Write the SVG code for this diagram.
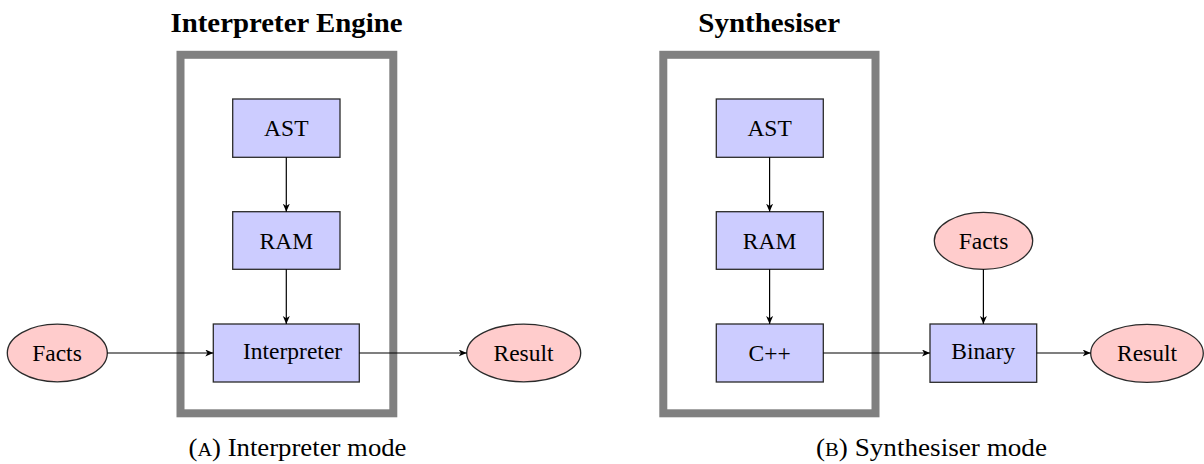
<svg xmlns="http://www.w3.org/2000/svg" width="1204" height="464" viewBox="0 0 1204 464">
  <style>
    .frame { fill: none; stroke: #808080; stroke-width: 8; }
    .box { fill: #ccccff; stroke: #2a2a2a; stroke-width: 1.3; }
    .ell { fill: #ffcccc; stroke: #2a2a2a; stroke-width: 1.3; }
    .lbl { font-family: "Liberation Serif", "Times New Roman", serif; font-size: 23.5px; fill: #000; }
    .title { font-family: "Liberation Serif", "Times New Roman", serif; font-size: 28px; font-weight: bold; fill: #000; }
    .cap { font-family: "Liberation Serif", "Times New Roman", serif; font-size: 25px; fill: #000; }
    .edge { stroke: #000; stroke-width: 1.2; fill: none; marker-end: url(#arr); }
  </style>
  <defs>
    <marker id="arr" markerUnits="userSpaceOnUse" markerWidth="10" markerHeight="8" refX="8" refY="3.5" orient="auto">
      <path d="M0,0 L8,3.5 L0,7 L2.2,3.5 z" fill="#000"/>
    </marker>
  </defs>
  <rect width="1204" height="464" fill="#fff"/>

  <!-- Panel A -->
  <g id="titleA"><text class="title" x="286.5" y="31.7" text-anchor="middle" textLength="232" lengthAdjust="spacingAndGlyphs">Interpreter Engine</text></g>
  <g id="frameA"><rect class="frame" x="180.5" y="54.8" width="212.8" height="358.5"/></g>
  <g id="astA"><rect class="box" x="232.7" y="99" width="107.3" height="58.3"/><text class="lbl" x="286.3" y="136" text-anchor="middle">AST</text></g>
  <g id="ramA"><rect class="box" x="232.7" y="211.7" width="107.3" height="57.6"/><text class="lbl" x="286.3" y="248.5" text-anchor="middle">RAM</text></g>
  <g id="interp"><rect class="box" x="213.3" y="324" width="146" height="58"/><text class="lbl" x="243" y="359">Interpreter</text></g>
  <g id="factsA"><ellipse class="ell" cx="57.3" cy="353" rx="50" ry="28.8"/><text class="lbl" x="57" y="361" text-anchor="middle">Facts</text></g>
  <g id="resultA"><ellipse class="ell" cx="523.7" cy="353" rx="57" ry="28.8"/><text class="lbl" x="523.5" y="361" text-anchor="middle">Result</text></g>
  <g id="capA"><text class="cap" x="297.5" y="456" text-anchor="middle" textLength="218" lengthAdjust="spacingAndGlyphs">(<tspan font-size="19">A</tspan>) Interpreter mode</text></g>

  <!-- Panel B -->
  <g id="titleB"><text class="title" x="769.2" y="31.7" text-anchor="middle" textLength="141.7" lengthAdjust="spacingAndGlyphs">Synthesiser</text></g>
  <g id="frameB"><rect class="frame" x="663.3" y="54.8" width="212.2" height="358.5"/></g>
  <g id="astB"><rect class="box" x="716.3" y="99" width="107" height="58.3"/><text class="lbl" x="769.6" y="136" text-anchor="middle">AST</text></g>
  <g id="ramB"><rect class="box" x="716.3" y="211.7" width="107" height="57.6"/><text class="lbl" x="769.6" y="248.5" text-anchor="middle">RAM</text></g>
  <g id="cpp"><rect class="box" x="716.3" y="324" width="107" height="58"/><text class="lbl" x="769.6" y="361" text-anchor="middle">C++</text></g>
  <g id="binary"><rect class="box" x="930" y="324" width="106.7" height="58.3"/><text class="lbl" x="983.3" y="359" text-anchor="middle">Binary</text></g>
  <g id="factsB"><ellipse class="ell" cx="983.5" cy="240.8" rx="49.2" ry="28.5"/><text class="lbl" x="983.5" y="249" text-anchor="middle">Facts</text></g>
  <g id="resultB"><ellipse class="ell" cx="1147" cy="353.3" rx="56.3" ry="29"/><text class="lbl" x="1147" y="361" text-anchor="middle">Result</text></g>
  <g id="capB"><text class="cap" x="931.5" y="456" text-anchor="middle" textLength="231" lengthAdjust="spacingAndGlyphs">(<tspan font-size="19">B</tspan>) Synthesiser mode</text></g>

  <!-- Connectors -->
  <g id="connectors">
    <line class="edge" x1="286.3" y1="157.3" x2="286.3" y2="211.7"/>
    <line class="edge" x1="286.3" y1="269.3" x2="286.3" y2="324"/>
    <line class="edge" x1="107.3" y1="353" x2="213.3" y2="353"/>
    <line class="edge" x1="359.3" y1="353" x2="466.7" y2="353"/>
    <line class="edge" x1="769.6" y1="157.3" x2="769.6" y2="211.7"/>
    <line class="edge" x1="769.6" y1="269.3" x2="769.6" y2="324"/>
    <line class="edge" x1="823.3" y1="353" x2="930" y2="353"/>
    <line class="edge" x1="983.4" y1="269.3" x2="983.4" y2="324"/>
    <line class="edge" x1="1036.7" y1="353" x2="1090.7" y2="353"/>
  </g>
</svg>
